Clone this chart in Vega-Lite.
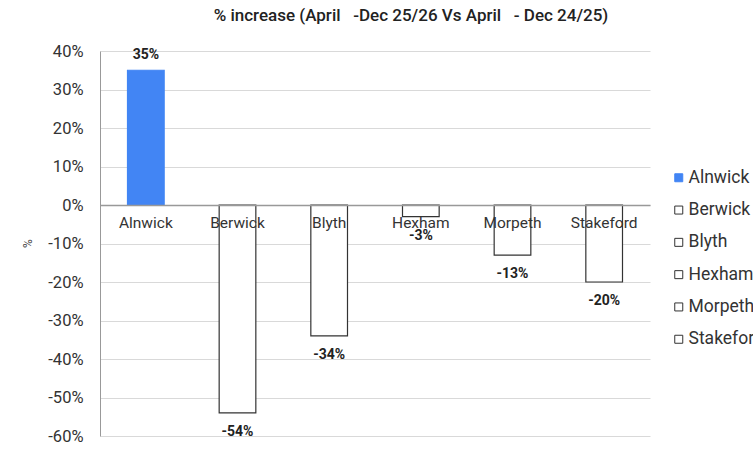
{
  "$schema": "https://vega.github.io/schema/vega-lite/v6.json",
  "autosize": {"type": "none"},
  "padding": {"left": 100, "top": 51, "right": 103, "bottom": 19},
  "width": 550,
  "height": 385,
  "background": "white",
  "config": {"font": "Roboto", "view": {"stroke": null}, "locale": {"number": {"decimal": ".", "thousands": ",", "grouping": [3], "currency": ["$", ""], "minus": "-"}}},
  "title": {"text": "% increase (April\u00a0\u00a0\u00a0-Dec 25/26 Vs April\u00a0\u00a0\u00a0- Dec 24/25)", "fontSize": 17, "fontWeight": 500, "color": "#222", "anchor": "middle", "frame": "group", "dx": 36, "offset": 18},
  "data": {"values": [
    {"town": "Alnwick", "v": 0.35},
    {"town": "Berwick", "v": -0.54},
    {"town": "Blyth", "v": -0.34},
    {"town": "Hexham", "v": -0.03},
    {"town": "Morpeth", "v": -0.13},
    {"town": "Stakeford", "v": -0.20}
  ]},
  "encoding": {
    "x": {"field": "town", "type": "nominal", "sort": null,
      "scale": {"paddingInner": 0.6, "paddingOuter": 0.3},
      "axis": {"title": null, "orient": "bottom", "offset": -231, "zindex": 1, "labelAngle": 0, "ticks": false, "domain": true, "domainColor": "#999", "domainWidth": 1.5, "labelFontSize": 15.5, "labelColor": "#333", "labelPadding": 10, "grid": false}},
    "y": {"field": "v", "type": "quantitative",
      "scale": {"domain": [-0.6, 0.4], "nice": false},
      "axis": {"title": "%", "titleFontSize": 12, "titleFontWeight": "normal", "titleColor": "#444", "titleAngle": 270, "titleX": -66, "titleY": 192, "format": ".0%", "values": [-0.6,-0.5,-0.4,-0.3,-0.2,-0.1,0,0.1,0.2,0.3,0.4], "labelOverlap": false, "ticks": false, "tickSize": 0, "labelPadding": 17, "labelFontSize": 16.5, "labelColor": "#333", "domainColor": "#999", "gridColor": "#d9d9d9"}}
  },
  "layer": [
    {"mark": {"type": "bar", "strokeWidth": 1.2},
      "encoding": {
        "fill": {"field": "town", "type": "nominal", "sort": null, "scale": {"range": ["#4285F4", "white", "white", "white", "white", "white"]},
          "legend": {"title": null, "orient": "none", "legendX": 570, "legendY": 118, "symbolType": "square", "symbolSize": 64, "symbolStrokeWidth": 1, "symbolStrokeColor": "#333", "labelFontSize": 17.5, "labelColor": "#333", "rowPadding": 13.3, "labelOffset": 1}},
        "stroke": {"field": "town", "type": "nominal", "sort": null, "scale": {"range": ["#4285F4", "#333", "#333", "#333", "#333", "#333"]}, "legend": null}
      }},
    {"transform": [{"filter": "datum.v >= 0"}],
      "mark": {"type": "text", "baseline": "alphabetic", "dy": -11, "fontWeight": "bold", "fontSize": 14, "color": "#222"},
      "encoding": {"text": {"field": "v", "type": "quantitative", "format": ".0%"}}},
    {"transform": [{"filter": "datum.v < 0"}],
      "mark": {"type": "text", "baseline": "alphabetic", "dy": 23, "fontWeight": "bold", "fontSize": 14, "color": "#222"},
      "encoding": {"text": {"field": "v", "type": "quantitative", "format": ".0%"}}}
  ]
}
